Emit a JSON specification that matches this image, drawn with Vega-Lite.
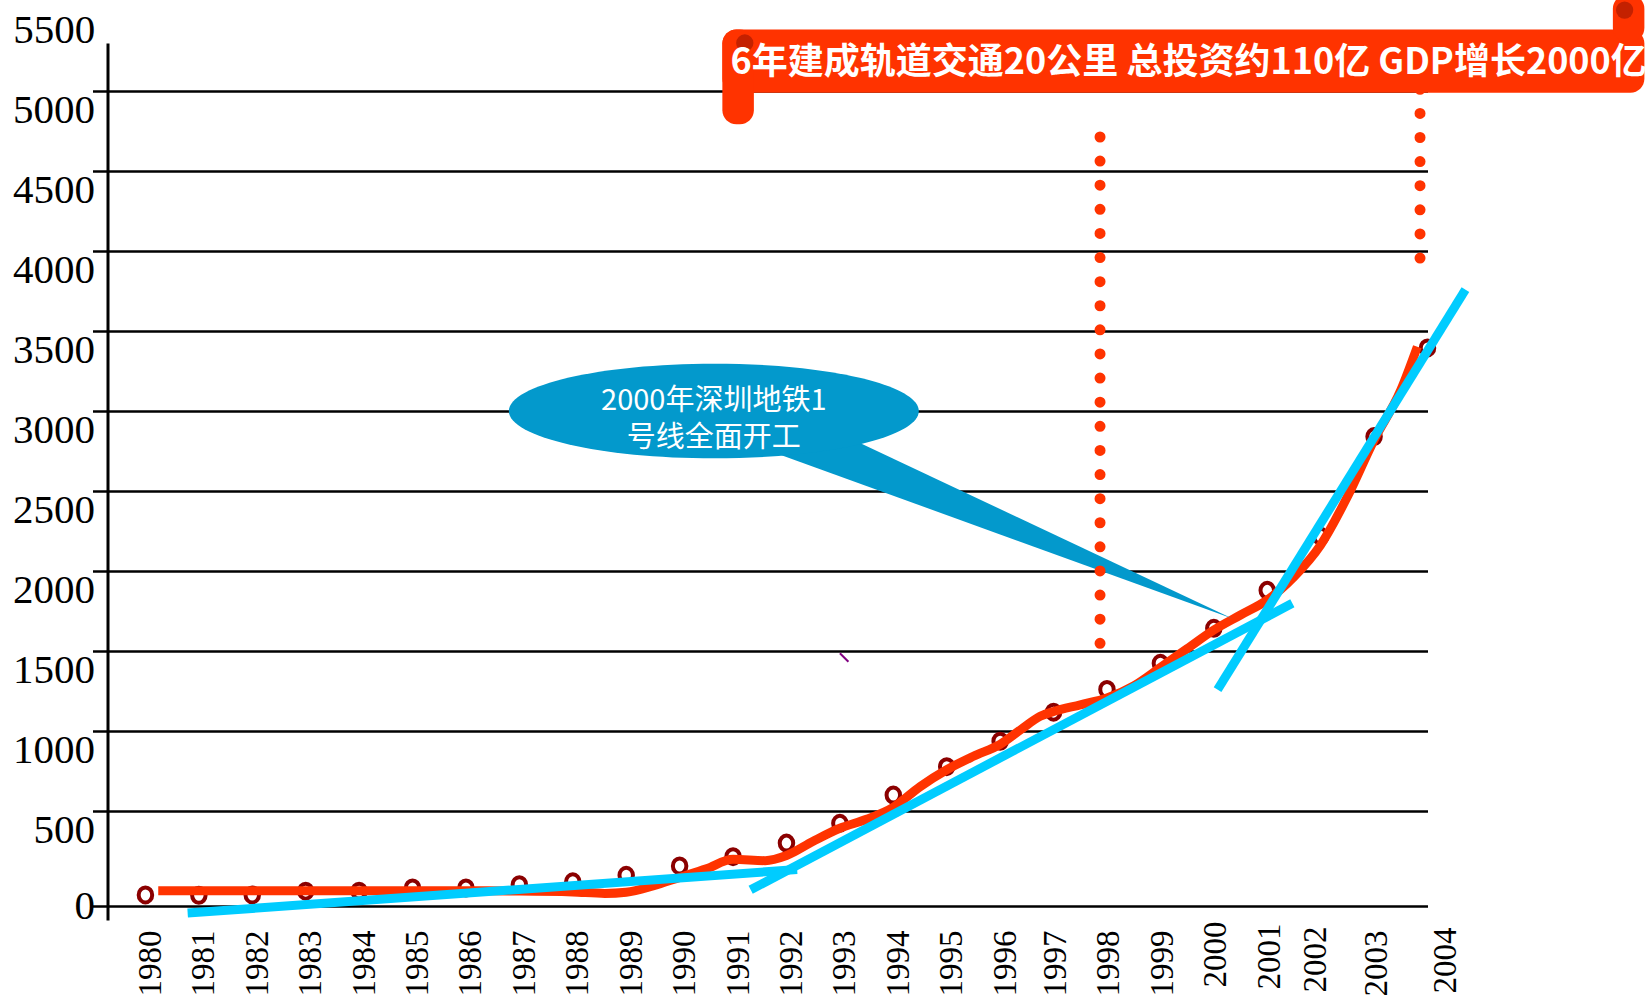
{
  "$schema": "https://vega.github.io/schema/vega-lite/v6.json",
  "width": 1320,
  "height": 877,
  "autosize": {"type": "none"},
  "padding": {"left": 107.5, "top": 43, "right": 224.5, "bottom": 78},
  "background": "white",
  "config": {"view": {"stroke": null}},
  "datasets": {
    "gdp": [
      {"year": 1980, "value": 58}, {"year": 1981, "value": 56}, {"year": 1982, "value": 58},
      {"year": 1983, "value": 78}, {"year": 1984, "value": 78}, {"year": 1985, "value": 95},
      {"year": 1986, "value": 95}, {"year": 1987, "value": 112}, {"year": 1988, "value": 127},
      {"year": 1989, "value": 161}, {"year": 1990, "value": 210}, {"year": 1991, "value": 259},
      {"year": 1992, "value": 330}, {"year": 1993, "value": 434}, {"year": 1994, "value": 598},
      {"year": 1995, "value": 775}, {"year": 1996, "value": 934}, {"year": 1997, "value": 1116},
      {"year": 1998, "value": 1258}, {"year": 1999, "value": 1421}, {"year": 2000, "value": 1640},
      {"year": 2001, "value": 1877}, {"year": 2002, "value": 2215}, {"year": 2003, "value": 2838},
      {"year": 2004, "value": 3392}
    ],
    "smooth": [
      {"year": 1980.24, "value": 80}, {"year": 1981, "value": 80}, {"year": 1982, "value": 80},
      {"year": 1983, "value": 80}, {"year": 1984, "value": 80}, {"year": 1985, "value": 80},
      {"year": 1986, "value": 80}, {"year": 1987, "value": 79}, {"year": 1988, "value": 74},
      {"year": 1988.6, "value": 66}, {"year": 1989, "value": 72}, {"year": 1989.5, "value": 105},
      {"year": 1990, "value": 150}, {"year": 1990.5, "value": 195}, {"year": 1991, "value": 245},
      {"year": 1991.6, "value": 238}, {"year": 1992, "value": 265}, {"year": 1992.5, "value": 340},
      {"year": 1993, "value": 408}, {"year": 1993.5, "value": 455}, {"year": 1994, "value": 521},
      {"year": 1994.5, "value": 650}, {"year": 1995, "value": 756}, {"year": 1995.5, "value": 840},
      {"year": 1996, "value": 915}, {"year": 1996.4, "value": 1010}, {"year": 1996.75, "value": 1090},
      {"year": 1997, "value": 1120}, {"year": 1997.5, "value": 1162}, {"year": 1998, "value": 1204},
      {"year": 1998.5, "value": 1280}, {"year": 1999, "value": 1395}, {"year": 1999.5, "value": 1512},
      {"year": 2000, "value": 1629}, {"year": 2000.5, "value": 1723}, {"year": 2001, "value": 1817},
      {"year": 2001.5, "value": 1962}, {"year": 2002, "value": 2161}, {"year": 2002.5, "value": 2462},
      {"year": 2003, "value": 2817}, {"year": 2003.5, "value": 3129}, {"year": 2003.81, "value": 3400}
    ],
    "trend": [
      {"seg": "A", "year": 1980.79, "value": -38}, {"seg": "A", "year": 1992.2, "value": 191},
      {"seg": "B", "year": 1991.33, "value": 85}, {"seg": "B", "year": 2001.47, "value": 1796},
      {"seg": "C", "year": 2000.07, "value": 1256}, {"seg": "C", "year": 2004.71, "value": 3756}
    ],
    "dots": [
      {"year": 1997.87, "value": 4710.6, "value2": 1546},
      {"year": 2003.86, "value": 3954, "value2": 5100}
    ],
    "callout": [
      {"year": 1990.64, "value": 2998}
    ],
    "calloutText": [
      {"year": 1990.64, "value": 3062, "label": "2000年深圳地铁1"},
      {"year": 1990.64, "value": 2831, "label": "号线全面开工"}
    ],
    "banner": [
      {"year": 1990.8, "year2": 2008.06, "value": 5382, "value2": 4987},
      {"year": 1990.8, "year2": 1991.39, "value": 5382, "value2": 4790},
      {"year": 2007.47, "year2": 2008.06, "value": 5600, "value2": 5304}
    ],
    "blobs": [
      {"year": 1991.22, "value": 5298},
      {"year": 2007.69, "value": 5504}
    ],
    "bannerText": [
      {"year": 1999.53, "value": 5173, "label": "6年建成轨道交通20公里 总投资约110亿 GDP增长2000亿"}
    ],
    "topLabel": [
      {"year": 1979.06, "value": 5500, "label": "5500"}
    ],
    "stray": [
      {"year": 1993.0, "value": 1484}, {"year": 1993.16, "value": 1431}
    ]
  },
  "encoding": {
    "x": {
      "field": "year", "type": "quantitative",
      "scale": {"type": "linear", "domain": [1979.29, 2004], "nice": false, "zero": false},
      "axis": {
        "values": [1980,1981,1982,1983,1984,1985,1986,1987,1988,1989,1990,1991,1992,1993,1994,1995,1996,1997,1998,1999,2000,2001,2002,2003,2004],
        "format": "d", "labelAngle": 270, "labelAlign": "right", "labelBaseline": "middle",
        "labelFont": "Liberation Serif", "labelFontSize": 33, "labelColor": "black",
        "labelPadding": {"condition": [
          {"test": "datum.value === 2000", "value": 1},
          {"test": "datum.value === 2001", "value": 3},
          {"test": "datum.value === 2002", "value": 6},
          {"test": "datum.value === 2004", "value": 7}
        ], "value": 10},
        "labelOffset": {"condition": [
          {"test": "datum.value === 2004", "value": 18},
          {"test": "datum.value === 2002", "value": -5},
          {"test": "datum.value >= 1997", "value": 2}
        ], "value": 5},
        "ticks": false, "domain": false, "grid": false,
        "title": null, "labelFlush": false, "labelOverlap": false
      }
    },
    "y": {
      "field": "value", "type": "quantitative",
      "scale": {"type": "linear", "domain": [-75, 0, 500, 5298], "range": [877, 863, 767.7, 0], "nice": false, "zero": false},
      "axis": {
        "values": [0,500,1000,1500,2000,2500,3000,3500,4000,4500,5000],
        "format": "d",
        "grid": true, "gridColor": "black", "gridWidth": 2.5, "gridOpacity": 1,
        "domain": true, "domainColor": "black", "domainWidth": 3,
        "ticks": true, "tickSize": 15, "tickWidth": 2.5, "tickColor": "black",
        "labelFont": "Liberation Serif", "labelFontSize": 41, "labelColor": "black",
        "labelPadding": -2,
        "labelBaseline": {"condition": {"test": "datum.value === 0", "value": "middle"}, "value": "top"},
        "labelOverlap": false, "labelFlush": false, "title": null
      }
    }
  },
  "layer": [
    {
      "data": {"name": "gdp"},
      "mark": {"type": "point", "shape": "M0,-1A0.9,1 0 1,1 0,1A0.9,1 0 1,1 0,-1Z", "size": 225, "filled": false, "color": "#8B0000", "strokeWidth": 4, "opacity": 1}
    },
    {
      "data": {"name": "smooth"},
      "mark": {"type": "line", "color": "#FF3300", "strokeWidth": 9, "interpolate": "monotone", "strokeCap": "butt"}
    },
    {
      "data": {"name": "trend"},
      "mark": {"type": "line", "color": "#00CCFF", "strokeWidth": 9, "strokeCap": "butt"},
      "encoding": {"detail": {"field": "seg", "type": "nominal"}}
    },
    {
      "data": {"name": "callout"},
      "mark": {"type": "point", "shape": "M0.30,0.205L2.529,1.012L0.70,0.15Z", "size": 168100, "filled": true, "color": "#0399CC", "opacity": 1, "strokeWidth": 0}
    },
    {
      "data": {"name": "callout"},
      "mark": {"type": "point", "shape": "M-1,0A1,0.231 0 1,1 1,0A1,0.231 0 1,1 -1,0Z", "size": 168100, "filled": true, "color": "#0399CC", "opacity": 1, "strokeWidth": 0}
    },
    {
      "data": {"name": "calloutText"},
      "mark": {"type": "text", "color": "white", "font": "Noto Sans CJK SC", "fontSize": 29, "align": "center", "baseline": "middle"},
      "encoding": {"text": {"field": "label", "type": "nominal"}}
    },
    {
      "data": {"name": "dots"},
      "mark": {"type": "rule", "color": "#FF3300", "strokeWidth": 11, "strokeCap": "round", "strokeDash": [0, 24.11]},
      "encoding": {"y2": {"field": "value2"}}
    },
    {
      "data": {"name": "banner"},
      "mark": {"type": "rect", "color": "#FF3300", "cornerRadius": 14, "opacity": 1},
      "encoding": {"x2": {"field": "year2"}, "y2": {"field": "value2"}}
    },
    {
      "data": {"name": "blobs"},
      "mark": {"type": "point", "shape": "circle", "size": 300, "filled": true, "color": "#C42100", "opacity": 1}
    },
    {
      "data": {"name": "bannerText"},
      "mark": {"type": "text", "color": "white", "font": "Noto Sans CJK SC", "fontWeight": "bold", "fontSize": 36, "align": "center", "baseline": "middle"},
      "encoding": {"text": {"field": "label", "type": "nominal"}}
    },
    {
      "data": {"name": "topLabel"},
      "mark": {"type": "text", "color": "black", "font": "Liberation Serif", "fontSize": 41, "align": "right", "baseline": "top"},
      "encoding": {"text": {"field": "label", "type": "nominal"}}
    },
    {
      "data": {"name": "stray"},
      "mark": {"type": "line", "color": "#800080", "strokeWidth": 2}
    }
  ]
}
